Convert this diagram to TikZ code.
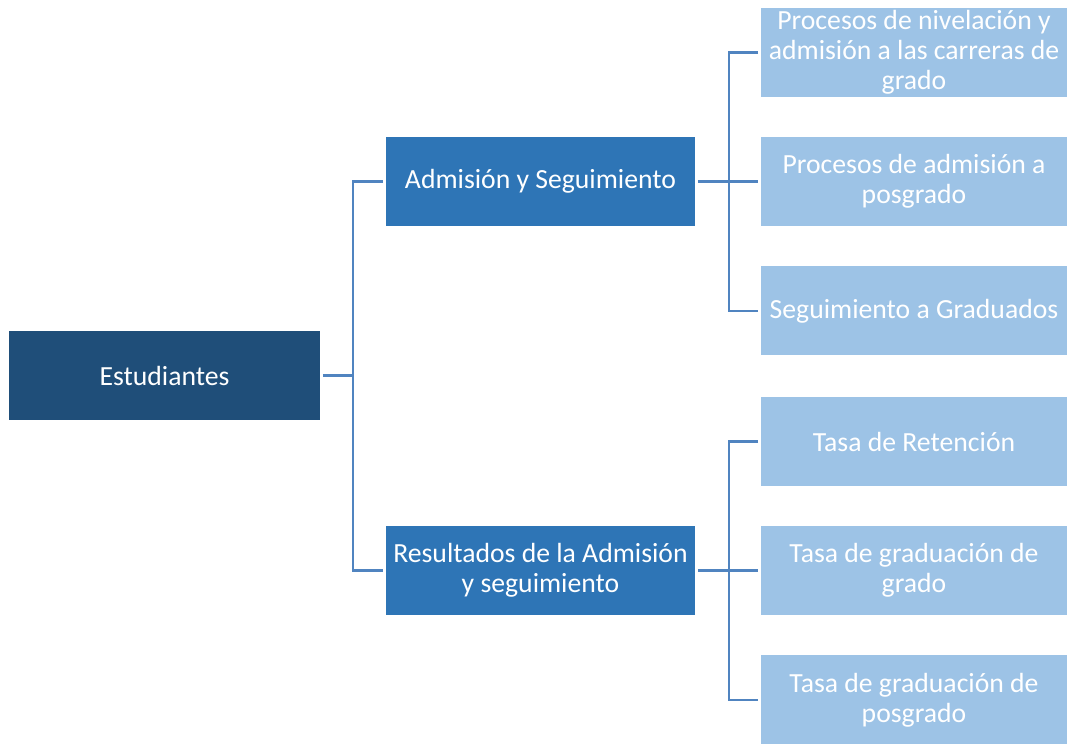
\documentclass[tikz,border=0pt]{standalone}
\usepackage{fontspec}
\setmainfont{Carlito}
\usepackage{xcolor}
\usepackage{tikz}

\definecolor{darkbox}{HTML}{1F4E79}
\definecolor{midbox}{HTML}{2E75B6}
\definecolor{lightbox}{HTML}{9DC3E6}
\definecolor{linkblue}{RGB}{80,132,192}

\begin{document}
\begin{tikzpicture}[
    box/.style={minimum height=2.225cm, inner sep=0pt, outer sep=0.07cm, align=center, text=white,
                font=\fontsize{19.7}{21.3}\selectfont},
    rootbox/.style={box, fill=darkbox, minimum width=7.775cm},
    groupbox/.style={box, fill=midbox, minimum width=7.725cm},
    leafbox/.style={box, fill=lightbox, minimum width=7.65cm},
    link/.style={draw=linkblue, line width=0.06cm}
  ]
            \useasboundingbox (0, 0) rectangle (26.675, 18.6);
            \node[rootbox] (est) at (4.1125, 9.2125) {Estudiantes};
            \node[groupbox] (adm) at (13.5125, 14.0625) {Admisión y Seguimiento};
            \node[groupbox] (res) at (13.5125, 4.3375) {Resultados de la Admisión\\y seguimiento};
            \node[leafbox] (niv) at (22.85, 17.2875) {Procesos de nivelación y\\admisión a las carreras de\\grado};
            \node[leafbox] (pos) at (22.85, 14.0625) {Procesos de admisión a\\posgrado};
            \node[leafbox] (grd) at (22.85, 10.825) {Seguimiento a Graduados};
            \node[leafbox] (ret) at (22.85, 7.5625) {Tasa de Retención};
            \node[leafbox] (tgg) at (22.85, 4.3375) {Tasa de graduación de\\grado};
            \node[leafbox] (tgp) at (22.85, 1.1) {Tasa de graduación de\\posgrado};
            \coordinate (jl) at (8.825, 0);
            \coordinate (jr) at (18.225, 0);
            \draw[link] (est.east) -- (est.east -| jl);
            \draw[link] (adm.west) -- (adm.west -| jl) -- (res.west -| jl) -- (res.west);
            \draw[link] (adm.east) -- (pos.west);
            \draw[link] (niv.west) -- (niv.west -| jr) -- (grd.west -| jr) -- (grd.west);
            \draw[link] (res.east) -- (tgg.west);
            \draw[link] (ret.west) -- (ret.west -| jr) -- (tgp.west -| jr) -- (tgp.west);
          \end{tikzpicture}
\end{document}
